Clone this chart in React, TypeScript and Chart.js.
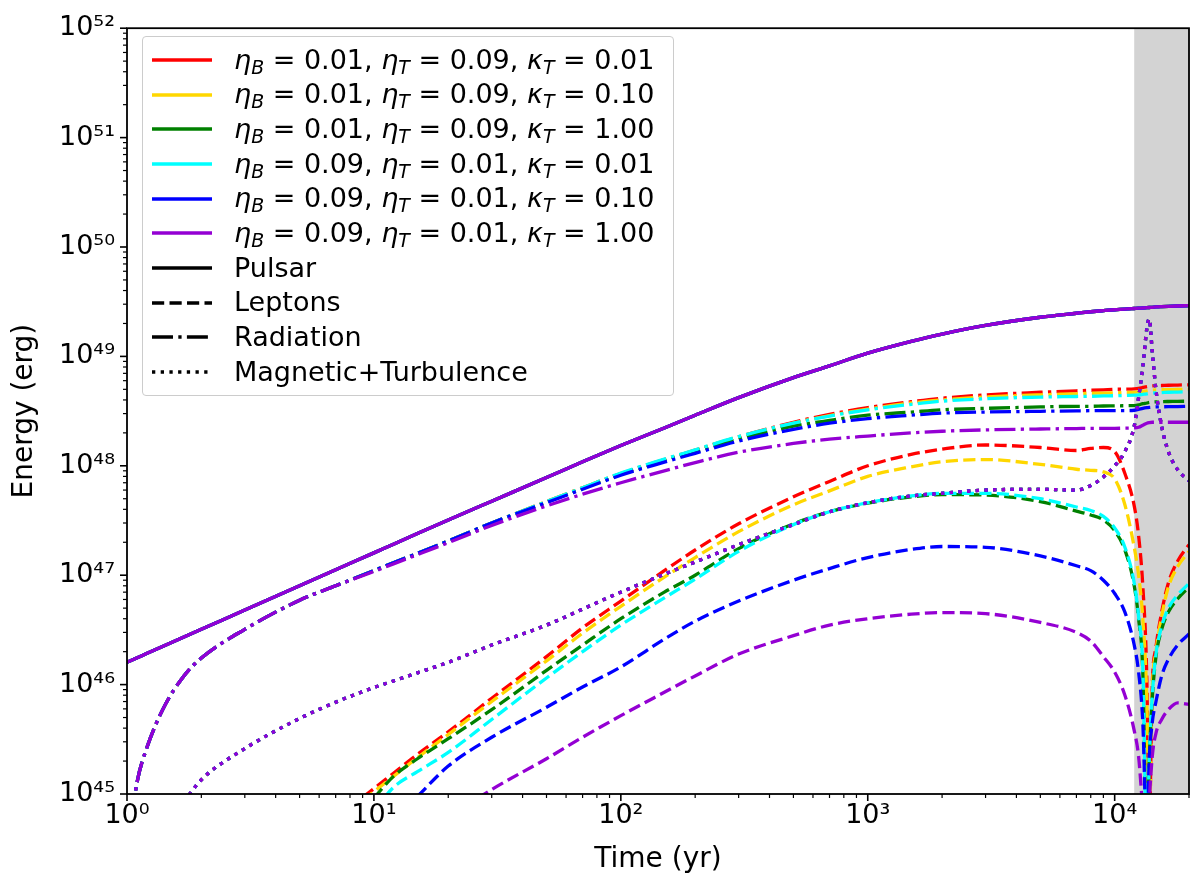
import { useEffect, useRef } from "react"
import { Chart, registerables } from "chart.js"

Chart.register(...registerables)

const FONT = "'DejaVu Sans', sans-serif"

// time grid (yr) shared by every curve
const TIME = [
  1, 1.1, 1.2, 1.4, 1.7, 2, 3, 5, 7,
  10, 12, 15, 20, 30, 50, 70,
  100, 150, 200, 300, 500, 700,
  1000, 1500, 2000, 3000, 5000, 7000, 8000, 9000,
  10000, 11000, 12000, 12500, 13000, 13500, 13800, 14200, 14700, 15500, 16500, 18000, 20000,
]

// energies (erg), same pulsar for every parameter set
const PULSAR = [
  1.6e46, 1.76e46, 1.92e46, 2.24e46, 2.72e46, 3.2e46, 4.8e46, 8.0e46, 1.12e47,
  1.6e47, 1.92e47, 2.4e47, 3.2e47, 4.75e47, 7.8e47, 1.09e48,
  1.53e48, 2.22e48, 2.9e48, 4.2e48, 6.4e48, 8.2e48,
  1.07e49, 1.37e49, 1.6e49, 1.92e49, 2.28e49, 2.48e49, 2.56e49, 2.62e49,
  2.67e49, 2.7e49, 2.74e49, 2.76e49, 2.77e49, 2.79e49, 2.8e49, 2.81e49, 2.83e49, 2.85e49, 2.87e49, 2.89e49, 2.91e49,
]

// magnetic + turbulence (eta_B + eta_T is the same for all runs)
const MAG = [
  null, null, null, null, 8.5e44, 1.35e45, 2.6e45, 4.9e45, 6.9e45,
  9.4e45, 1.08e46, 1.28e46, 1.6e46, 2.3e46, 3.5e46, 4.9e46,
  7.0e46, 1.02e47, 1.32e47, 1.9e47, 2.9e47, 3.8e47,
  4.6e47, 5.3e47, 5.6e47, 6.0e47, 6.1e47, 6.0e47, 6.6e47, 7.9e47,
  1.0e48, 1.35e48, 2.3e48, 4.2e48, 8.0e48, 1.8e49, 2.2e49, 1.1e49, 4.9e48, 2.3e48, 1.35e48, 9.2e47, 7.3e47,
]

const RAD_RED = [
  3e44, 1.3e45, 2.6e45, 6.0e45, 1.2e46, 1.75e46, 3.2e46, 5.9e46, 8.0e46,
  1.1e47, 1.3e47, 1.58e47, 2.05e47, 3.0e47, 4.7e47, 6.3e47,
  8.5e47, 1.14e48, 1.39e48, 1.84e48, 2.5e48, 2.95e48,
  3.4e48, 3.85e48, 4.15e48, 4.45e48, 4.7e48, 4.85e48, 4.9e48, 4.95e48,
  5.0e48, 5.02e48, 5.05e48, 5.1e48, 5.2e48, 5.3e48, 5.35e48, 5.38e48, 5.4e48, 5.42e48, 5.45e48, 5.47e48, 5.5e48,
]
const RAD_YELLOW = [
  3e44, 1.3e45, 2.6e45, 6.0e45, 1.2e46, 1.75e46, 3.2e46, 5.9e46, 8.0e46,
  1.1e47, 1.3e47, 1.58e47, 2.05e47, 3.0e47, 4.7e47, 6.3e47,
  8.5e47, 1.14e48, 1.39e48, 1.84e48, 2.45e48, 2.88e48,
  3.3e48, 3.75e48, 4.0e48, 4.25e48, 4.45e48, 4.55e48, 4.6e48, 4.62e48,
  4.65e48, 4.67e48, 4.7e48, 4.75e48, 4.8e48, 4.85e48, 4.9e48, 4.92e48, 4.94e48, 4.96e48, 4.97e48, 4.98e48, 5.0e48,
]
const RAD_GREEN = [
  3e44, 1.3e45, 2.6e45, 6.0e45, 1.2e46, 1.75e46, 3.2e46, 5.9e46, 8.0e46,
  1.1e47, 1.3e47, 1.58e47, 2.05e47, 3.0e47, 4.65e47, 6.2e47,
  8.4e47, 1.12e48, 1.35e48, 1.75e48, 2.3e48, 2.6e48,
  2.9e48, 3.1e48, 3.25e48, 3.35e48, 3.45e48, 3.5e48, 3.5e48, 3.52e48,
  3.53e48, 3.54e48, 3.55e48, 3.6e48, 3.7e48, 3.75e48, 3.8e48, 3.82e48, 3.84e48, 3.86e48, 3.87e48, 3.88e48, 3.9e48,
]
const RAD_CYAN = [
  3e44, 1.3e45, 2.6e45, 6.0e45, 1.2e46, 1.75e46, 3.2e46, 5.9e46, 8.0e46,
  1.1e47, 1.3e47, 1.58e47, 2.05e47, 3.0e47, 4.7e47, 6.3e47,
  8.6e47, 1.15e48, 1.4e48, 1.85e48, 2.45e48, 2.85e48,
  3.25e48, 3.65e48, 3.9e48, 4.1e48, 4.25e48, 4.3e48, 4.32e48, 4.35e48,
  4.37e48, 4.4e48, 4.42e48, 4.45e48, 4.5e48, 4.55e48, 4.6e48, 4.62e48, 4.65e48, 4.67e48, 4.7e48, 4.72e48, 4.75e48,
]
const RAD_BLUE = [
  3e44, 1.3e45, 2.6e45, 6.0e45, 1.2e46, 1.75e46, 3.2e46, 5.9e46, 8.0e46,
  1.1e47, 1.3e47, 1.58e47, 2.05e47, 3.0e47, 4.6e47, 6.1e47,
  8.2e47, 1.08e48, 1.3e48, 1.68e48, 2.15e48, 2.45e48,
  2.7e48, 2.9e48, 3.03e48, 3.1e48, 3.15e48, 3.18e48, 3.19e48, 3.2e48,
  3.2e48, 3.2e48, 3.22e48, 3.28e48, 3.35e48, 3.4e48, 3.42e48, 3.44e48, 3.45e48, 3.46e48, 3.47e48, 3.48e48, 3.5e48,
]
const RAD_PURPLE = [
  3e44, 1.3e45, 2.6e45, 6.0e45, 1.2e46, 1.75e46, 3.2e46, 5.9e46, 8.0e46,
  1.08e47, 1.27e47, 1.54e47, 1.98e47, 2.85e47, 4.3e47, 5.5e47,
  7.0e47, 9.0e47, 1.07e48, 1.33e48, 1.6e48, 1.75e48,
  1.87e48, 2.0e48, 2.07e48, 2.13e48, 2.17e48, 2.19e48, 2.2e48, 2.2e48,
  2.2e48, 2.21e48, 2.22e48, 2.25e48, 2.35e48, 2.45e48, 2.48e48, 2.5e48, 2.5e48, 2.5e48, 2.5e48, 2.5e48, 2.5e48,
]

const LEP_RED = [
  null, null, null, null, null, null, null, null, 6e44,
  1.12e45, 1.55e45, 2.3e45, 3.7e45, 7.5e45, 1.8e46, 3.3e46,
  5.8e46, 1.1e47, 1.7e47, 2.95e47, 5.2e47, 7.2e47,
  1.0e48, 1.27e48, 1.42e48, 1.55e48, 1.47e48, 1.38e48, 1.44e48, 1.47e48,
  1.35e48, 8.5e47, 4.3e47, 2.3e47, 8e46, 1.1e46, 5e44, 1.0e46, 2.2e46, 4.6e46, 8.5e46, 1.35e47, 1.9e47,
]
const LEP_YELLOW = [
  null, null, null, null, null, null, null, null, 5.5e44,
  1.05e45, 1.45e45, 2.15e45, 3.5e45, 7.0e45, 1.65e46, 2.95e46,
  5.2e46, 9.6e46, 1.45e47, 2.5e47, 4.4e47, 5.9e47,
  8.0e47, 9.8e47, 1.09e48, 1.14e48, 1.03e48, 9.3e47, 9.1e47, 8.8e47,
  7.6e47, 4.4e47, 1.8e47, 1.0e47, 4e46, 7e45, 5e44, 9e45, 2.0e46, 4.2e46, 7.8e46, 1.2e47, 1.65e47,
]
const LEP_GREEN = [
  null, null, null, null, null, null, null, null, null,
  9.2e44, 1.45e45, 2.1e45, 3.2e45, 5.9e45, 1.35e46, 2.3e46,
  4.0e46, 7.0e46, 1.0e47, 1.75e47, 2.95e47, 3.8e47,
  4.55e47, 5.2e47, 5.45e47, 5.4e47, 4.7e47, 3.85e47, 3.55e47, 3.2e47,
  2.55e47, 1.7e47, 8e46, 4e46, 1.3e46, 3e44, 2e45, 7.5e45, 1.8e46, 3.2e46, 4.6e46, 6.1e46, 7.8e46,
]
const LEP_CYAN = [
  null, null, null, null, null, null, null, null, null,
  7e44, 1.15e45, 1.6e45, 2.4e45, 4.8e45, 1.15e46, 2.0e46,
  3.5e46, 6.2e46, 9.2e46, 1.65e47, 2.9e47, 3.8e47,
  4.6e47, 5.3e47, 5.6e47, 5.6e47, 5.0e47, 4.2e47, 3.9e47, 3.45e47,
  2.7e47, 1.8e47, 8.5e46, 4.2e46, 1.4e46, 3e44, 2e45, 8e45, 1.9e46, 3.4e46, 5.0e46, 6.6e46, 8.4e46,
]
const LEP_BLUE = [
  null, null, null, null, null, null, null, null, null,
  null, null, 9.5e44, 1.8e45, 3.3e45, 6.2e45, 9.5e45,
  1.45e46, 2.6e46, 3.8e46, 5.8e46, 9.0e46, 1.15e47,
  1.45e47, 1.72e47, 1.83e47, 1.8e47, 1.5e47, 1.22e47, 1.1e47, 9e46,
  6.8e46, 4.6e46, 2.3e46, 1.3e46, 4.5e45, 4e44, 2e45, 4.5e45, 7e45, 1.2e46, 1.7e46, 2.3e46, 2.9e46,
]
const LEP_PURPLE = [
  null, null, null, null, null, null, null, null, null,
  null, null, null, 6.1e44, 1.1e45, 2.1e45, 3.3e45,
  5.2e45, 8.5e45, 1.2e46, 1.9e46, 2.8e46, 3.5e46,
  4.0e46, 4.4e46, 4.55e46, 4.45e46, 3.7e46, 3.0e46, 2.5e46, 1.8e46,
  1.3e46, 8e45, 3.8e45, 2.2e45, 7e44, 2e44, 8e44, 2.2e45, 3.6e45, 4.8e45, 5.9e45, 6.8e45, 6.6e45,
]

const COLORS = ["red", "gold", "green", "cyan", "blue", "darkviolet"]
const ETA_B = ["0.01", "0.01", "0.01", "0.09", "0.09", "0.09"]
const ETA_T = ["0.09", "0.09", "0.09", "0.01", "0.01", "0.01"]
const KAPPA_T = ["0.01", "0.10", "1.00", "0.01", "0.10", "1.00"]
const LEPTONS = [LEP_RED, LEP_YELLOW, LEP_GREEN, LEP_CYAN, LEP_BLUE, LEP_PURPLE]
const RADIATION = [RAD_RED, RAD_YELLOW, RAD_GREEN, RAD_CYAN, RAD_BLUE, RAD_PURPLE]

const COMPONENTS = ["Pulsar", "Leptons", "Radiation", "Magnetic+Turbulence"]

const X_MIN = 1
const X_MAX = 2e4
const Y_MIN = 1e45
const Y_MAX = 1e52
const SHADE_START = 1.2e4

const X_DECADES = [1, 10, 100, 1000, 10000]
const Y_DECADES = [1e45, 1e46, 1e47, 1e48, 1e49, 1e50, 1e51, 1e52]
const DECADE_STEPS = [1, 2, 3, 4, 5, 6, 7, 8, 9]

// line styles, in px for a 3.3px line
const LW = 3.3
const DASHES: number[][] = [[], [12.2, 5.3], [21, 5.3, 3.3, 5.3], [3.3, 5.4]]

const SUP: Record<string, string> = {
  "0": "⁰", "1": "¹", "2": "²", "3": "³", "4": "⁴",
  "5": "⁵", "6": "⁶", "7": "⁷", "8": "⁸", "9": "⁹", "-": "⁻",
}
const powerLabel = (v: number) =>
  "10" + String(Math.round(Math.log10(v))).split("").map((c) => SUP[c]).join("")

function logTicks(decades: number[], max: number) {
  const out: { value: number; major: boolean }[] = []
  decades.forEach((d) =>
    DECADE_STEPS.forEach((s) => {
      const v = d * s
      if (v <= max * 1.0001) out.push({ value: v, major: s === 1 })
    })
  )
  return out
}

const series = (values: (number | null)[]) => TIME.map((t, i) => ({ x: t, y: values[i] }))

function buildDatasets() {
  const sets: any[] = []
  COLORS.forEach((color, i) => {
    const parts = [PULSAR, LEPTONS[i], RADIATION[i], MAG]
    parts.forEach((values, k) => {
      sets.push({
        label: `${COMPONENTS[k]} ${i}`,
        data: series(values),
        borderColor: color,
        backgroundColor: color,
        borderWidth: LW,
        borderDash: DASHES[k],
        borderCapStyle: "butt",
        borderJoinStyle: "round",
        pointRadius: 0,
        cubicInterpolationMode: "monotone",
        fill: false,
        clip: 0,
      })
    })
  })
  // later curves on top, like matplotlib
  sets.forEach((s, i) => (s.order = -i))
  return sets
}

// grey band, matplotlib style frame and outward ticks
const axesPlugin = {
  id: "mplAxes",
  beforeDatasetsDraw(chart: any) {
    const { ctx, chartArea: a, scales } = chart
    const x0 = scales.x.getPixelForValue(SHADE_START)
    ctx.save()
    ctx.fillStyle = "#d3d3d3"
    ctx.fillRect(x0, a.top, a.right - x0, a.bottom - a.top)
    ctx.restore()
  },
  afterDatasetsDraw(chart: any) {
    const { ctx, chartArea: a, scales } = chart
    ctx.save()
    ctx.strokeStyle = "#000"
    scales.x.ticks.forEach((t: any) => {
      const px = scales.x.getPixelForValue(t.value)
      ctx.lineWidth = t.major ? 1.6 : 1.2
      ctx.beginPath()
      ctx.moveTo(px, a.bottom)
      ctx.lineTo(px, a.bottom + (t.major ? 7 : 4))
      ctx.stroke()
    })
    scales.y.ticks.forEach((t: any) => {
      const py = scales.y.getPixelForValue(t.value)
      ctx.lineWidth = t.major ? 1.6 : 1.2
      ctx.beginPath()
      ctx.moveTo(a.left, py)
      ctx.lineTo(a.left - (t.major ? 7 : 4), py)
      ctx.stroke()
    })
    ctx.lineWidth = 1.8
    ctx.strokeRect(a.left, a.top, a.right - a.left, a.bottom - a.top)
    ctx.restore()
  },
}

function LegendRow({ color, dash, children }: { color: string; dash: number[]; children: any }) {
  return (
    <div style={{ display: "flex", alignItems: "center", height: 34.7, paddingLeft: 9, whiteSpace: "nowrap" }}>
      <svg width={60} height={10} style={{ marginRight: 22, flex: "none" }}>
        <line x1={0} y1={5} x2={60} y2={5} stroke={color} strokeWidth={LW} strokeDasharray={dash.length ? dash.join(" ") : undefined} />
      </svg>
      <span style={{ lineHeight: "34.7px" }}>{children}</span>
    </div>
  )
}

const subStyle = { fontSize: "0.7em", verticalAlign: "-0.25em", fontStyle: "italic", lineHeight: 0 } as const

function Param({ sym, sub, val }: { sym: string; sub: string; val: string }) {
  return (
    <>
      <i>{sym}</i>
      <sub style={subStyle}>{sub}</sub> = {val}
    </>
  )
}

function Legend() {
  return (
    <div
      style={{
        position: "absolute",
        left: 142,
        top: 36,
        width: 532,
        height: 360,
        boxSizing: "border-box",
        border: "1px solid #cccccc",
        borderRadius: 4,
        background: "rgba(255,255,255,0.8)",
        paddingTop: 5.5,
        fontFamily: FONT,
        fontSize: 27,
        color: "#000",
      }}
    >
      {COLORS.map((c, i) => (
        <LegendRow key={c} color={c} dash={[]}>
          <Param sym="η" sub="B" val={ETA_B[i]} />,{" "}
          <Param sym="η" sub="T" val={ETA_T[i]} />,{" "}
          <Param sym="κ" sub="T" val={KAPPA_T[i]} />
        </LegendRow>
      ))}
      {COMPONENTS.map((name, k) => (
        <LegendRow key={name} color="#000" dash={DASHES[k]}>
          {name}
        </LegendRow>
      ))}
    </div>
  )
}

export default function App() {
  const canvasRef = useRef<HTMLCanvasElement>(null)

  useEffect(() => {
    if (!canvasRef.current) return
    const tickFont = { family: FONT, size: 27 }
    const titleFont = { family: FONT, size: 28 }
    const labelCb = function (this: any, value: any, index: number, ticks: any[]) {
      return ticks[index].major ? powerLabel(Number(value)) : ""
    }

    const chart = new Chart(canvasRef.current, {
      type: "line",
      data: { datasets: buildDatasets() },
      options: {
        responsive: false,
        animation: false,
        events: [],
        layout: { padding: { top: 21, right: 11, left: 0, bottom: 0 } },
        plugins: { legend: { display: false }, tooltip: { enabled: false } },
        scales: {
          x: {
            type: "logarithmic",
            min: X_MIN,
            max: X_MAX,
            grid: { display: false, drawTicks: false },
            border: { display: false },
            afterBuildTicks: (s: any) => {
              s.ticks = logTicks(X_DECADES, X_MAX)
            },
            afterFit: (s: any) => {
              s.height = 91
            },
            ticks: { autoSkip: false, maxRotation: 0, padding: 6, color: "#000", font: tickFont, callback: labelCb },
            title: { display: true, text: "Time (yr)", color: "#000", font: titleFont, padding: { top: 0, bottom: 8 } },
          },
          y: {
            type: "logarithmic",
            min: Y_MIN,
            max: Y_MAX,
            grid: { display: false, drawTicks: false },
            border: { display: false },
            afterBuildTicks: (s: any) => {
              s.ticks = logTicks(Y_DECADES, Y_MAX)
            },
            afterFit: (s: any) => {
              s.width = 127
            },
            ticks: { autoSkip: false, padding: 12, color: "#000", font: tickFont, callback: labelCb },
            title: { display: true, text: "Energy (erg)", color: "#000", font: titleFont, padding: { top: 8, bottom: 0 } },
          },
        },
      } as any,
      plugins: [axesPlugin],
    })

    return () => chart.destroy()
  }, [])

  return (
    <div style={{ position: "absolute", left: 0, top: 0, width: 1200, height: 885, background: "#fff" }}>
      <canvas ref={canvasRef} width={1200} height={885} style={{ display: "block" }} />
      <Legend />
    </div>
  )
}
